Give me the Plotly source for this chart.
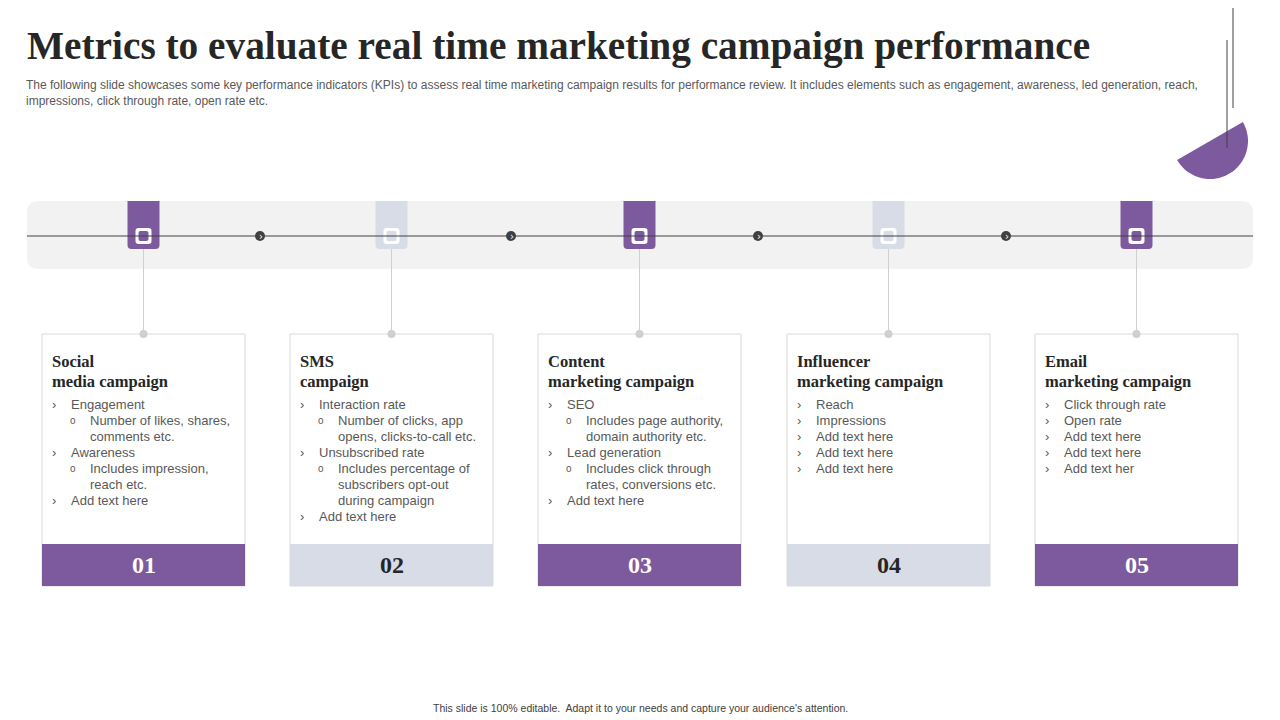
import numpy as np
import plotly.graph_objects as go

PURPLE = "#7d5a9e"
GREY_TAB = "#d7dce6"
TXT = "#595959"

numbers = ["01", "02", "03", "04", "05"]
titles = [
    ["Social", "media campaign"],
    ["SMS", "campaign"],
    ["Content", "marketing campaign"],
    ["Influencer", "marketing campaign"],
    ["Email", "marketing campaign"],
]
# (level, text): 1 = main bullet, 2 = sub bullet, 0 = continuation of sub bullet
items = [
    [(1, "Engagement"), (2, "Number of likes, shares,"), (0, "comments etc."),
     (1, "Awareness"), (2, "Includes impression,"), (0, "reach etc."), (1, "Add text here")],
    [(1, "Interaction rate"), (2, "Number of clicks, app"), (0, "opens, clicks-to-call etc."),
     (1, "Unsubscribed rate"), (2, "Includes percentage of"), (0, "subscribers opt-out"),
     (0, "during campaign"), (1, "Add text here")],
    [(1, "SEO"), (2, "Includes page authority,"), (0, "domain authority etc."),
     (1, "Lead generation"), (2, "Includes click through"), (0, "rates, conversions etc."),
     (1, "Add text here")],
    [(1, "Reach"), (1, "Impressions"), (1, "Add text here"), (1, "Add text here"), (1, "Add text here")],
    [(1, "Click through rate"), (1, "Open rate"), (1, "Add text here"), (1, "Add text here"),
     (1, "Add text her")],
]
highlight = [True, False, True, False, True]
card_left = [42, 290, 538, 787, 1035]
arrow_x = [260, 511, 758, 1006]

W, H = 1280, 720
OFF = 8  # page body margin
shapes, ann = [], []


def rrect(x0, y0, x1, y1, r, color, top=True, bottom=True):
    rt = r if top else 0
    rb = r if bottom else 0
    p = (f"M{x0+rt},{y0} L{x1-rt},{y0} Q{x1},{y0} {x1},{y0+rt} L{x1},{y1-rb} "
         f"Q{x1},{y1} {x1-rb},{y1} L{x0+rb},{y1} Q{x0},{y1} {x0},{y1-rb} "
         f"L{x0},{y0+rt} Q{x0},{y0} {x0+rt},{y0} Z")
    return dict(type="path", path=p, fillcolor=color, line=dict(width=0), layer="below")


# timeline band
shapes.append(rrect(27, 201, 1253, 269, 12, "#f2f2f2"))
shapes.append(dict(type="line", x0=27, x1=1253, y0=236, y1=236, line=dict(color="#404040", width=1)))

# decoration top right
ang = np.linspace(np.radians(-30), np.radians(150), 40)
cx, cy, rr = 1210, 141, 38
pts = [(cx + rr * np.cos(a), cy + rr * np.sin(a)) for a in ang]
path = "M" + " L".join(f"{x:.1f},{y:.1f}" for x, y in pts) + " Z"
shapes.append(dict(type="path", path=path, fillcolor=PURPLE, line=dict(width=0)))
shapes.append(dict(type="line", x0=1233, x1=1233, y0=OFF, y1=108, line=dict(color="#404040", width=1)))
shapes.append(dict(type="line", x0=1227, x1=1227, y0=40, y1=148, line=dict(color="#404040", width=1)))

for ax in arrow_x:
    shapes.append(dict(type="circle", x0=ax - 5, x1=ax + 5, y0=231, y1=241,
                       fillcolor="#404040", line=dict(width=0)))
    ann.append(dict(x=ax + 0.5, y=236, text="›", showarrow=False, font=dict(size=10, color="white",
                    family="DejaVu Sans"), xanchor="center", yanchor="middle"))

for i in range(5):
    x0 = card_left[i]
    x1 = x0 + 203
    cxm = (x0 + x1) / 2
    col = PURPLE if highlight[i] else GREY_TAB
    # tab
    shapes.append(rrect(cxm - 16, 201, cxm + 16, 249, 4, col, top=False))
    shapes.append(rrect(cxm - 8, 228, cxm + 8, 244, 3, "#ffffff"))
    shapes.append(rrect(cxm - 5, 231, cxm + 5, 241, 2, col))
    # connector
    shapes.append(dict(type="line", x0=cxm, x1=cxm, y0=249, y1=334, line=dict(color="#d0d0d0", width=1)))
    # card
    shapes.append(dict(type="rect", x0=x0, x1=x1, y0=334, y1=586, fillcolor="white",
                       line=dict(color="#d9d9d9", width=1)))
    shapes.append(dict(type="rect", x0=x0, x1=x1, y0=544, y1=586, fillcolor=col, line=dict(width=0)))
    shapes.append(dict(type="circle", x0=cxm - 4, x1=cxm + 4, y0=330, y1=338,
                       fillcolor="#d0d0d0", line=dict(width=0)))
    ann.append(dict(x=cxm, y=565, text=f"<b>{numbers[i]}</b>", showarrow=False,
                    font=dict(size=24, color="white" if highlight[i] else "#262626", family="Liberation Serif"),
                    xanchor="center", yanchor="middle"))
    for j, t in enumerate(titles[i]):
        ann.append(dict(x=x0 + 8, y=361 + j * 20, text=f"<b>{t}</b>", showarrow=False,
                        font=dict(size=16.5, color="#262626", family="Liberation Serif"),
                        xanchor="left", yanchor="middle"))
    for k, (lvl, t) in enumerate(items[i]):
        y = 404 + k * 16
        f = dict(size=13, color=TXT, family="Liberation Sans")
        if lvl == 1:
            ann.append(dict(x=x0 + 8, y=y, text="›", showarrow=False, font=f, xanchor="left", yanchor="middle"))
            ann.append(dict(x=x0 + 27, y=y, text=t, showarrow=False, font=f, xanchor="left", yanchor="middle"))
        else:
            if lvl == 2:
                ann.append(dict(x=x0 + 26, y=y, text="o", showarrow=False,
                                font=dict(size=10, color=TXT, family="Liberation Sans"),
                                xanchor="left", yanchor="middle"))
            ann.append(dict(x=x0 + 46, y=y, text=t, showarrow=False, font=f, xanchor="left", yanchor="middle"))

ann.append(dict(x=25, y=46, text="<b>Metrics to evaluate real time marketing campaign performance</b>",
                showarrow=False, font=dict(size=39.3, color="#262626", family="Liberation Serif"),
                xanchor="left", yanchor="middle"))
ann.append(dict(x=24, y=93, align="left", showarrow=False, xanchor="left", yanchor="middle",
                text="The following slide showcases some key performance indicators (KPIs) to assess real time marketing "
                     "campaign results for performance review. It includes elements such as engagement, awareness, led "
                     "generation, reach,<br>impressions, click through rate, open rate etc.",
                font=dict(size=12, color=TXT, family="Liberation Sans")))
ann.append(dict(x=640, y=708, text="This slide is 100% editable.  Adapt it to your needs and capture your audience's attention.",
                showarrow=False, font=dict(size=10.5, color="#404040", family="Liberation Sans"),
                xanchor="center", yanchor="middle"))

fig = go.Figure()
fig.update_layout(
    width=W, height=H, margin=dict(l=0, r=0, t=0, b=0),
    paper_bgcolor="white", plot_bgcolor="white",
    xaxis=dict(range=[OFF, W + OFF], visible=False, fixedrange=True),
    yaxis=dict(range=[H + OFF, OFF], visible=False, fixedrange=True),
    shapes=shapes, annotations=ann, showlegend=False,
)
fig.write_html("out.html", config={"displayModeBar": False})
